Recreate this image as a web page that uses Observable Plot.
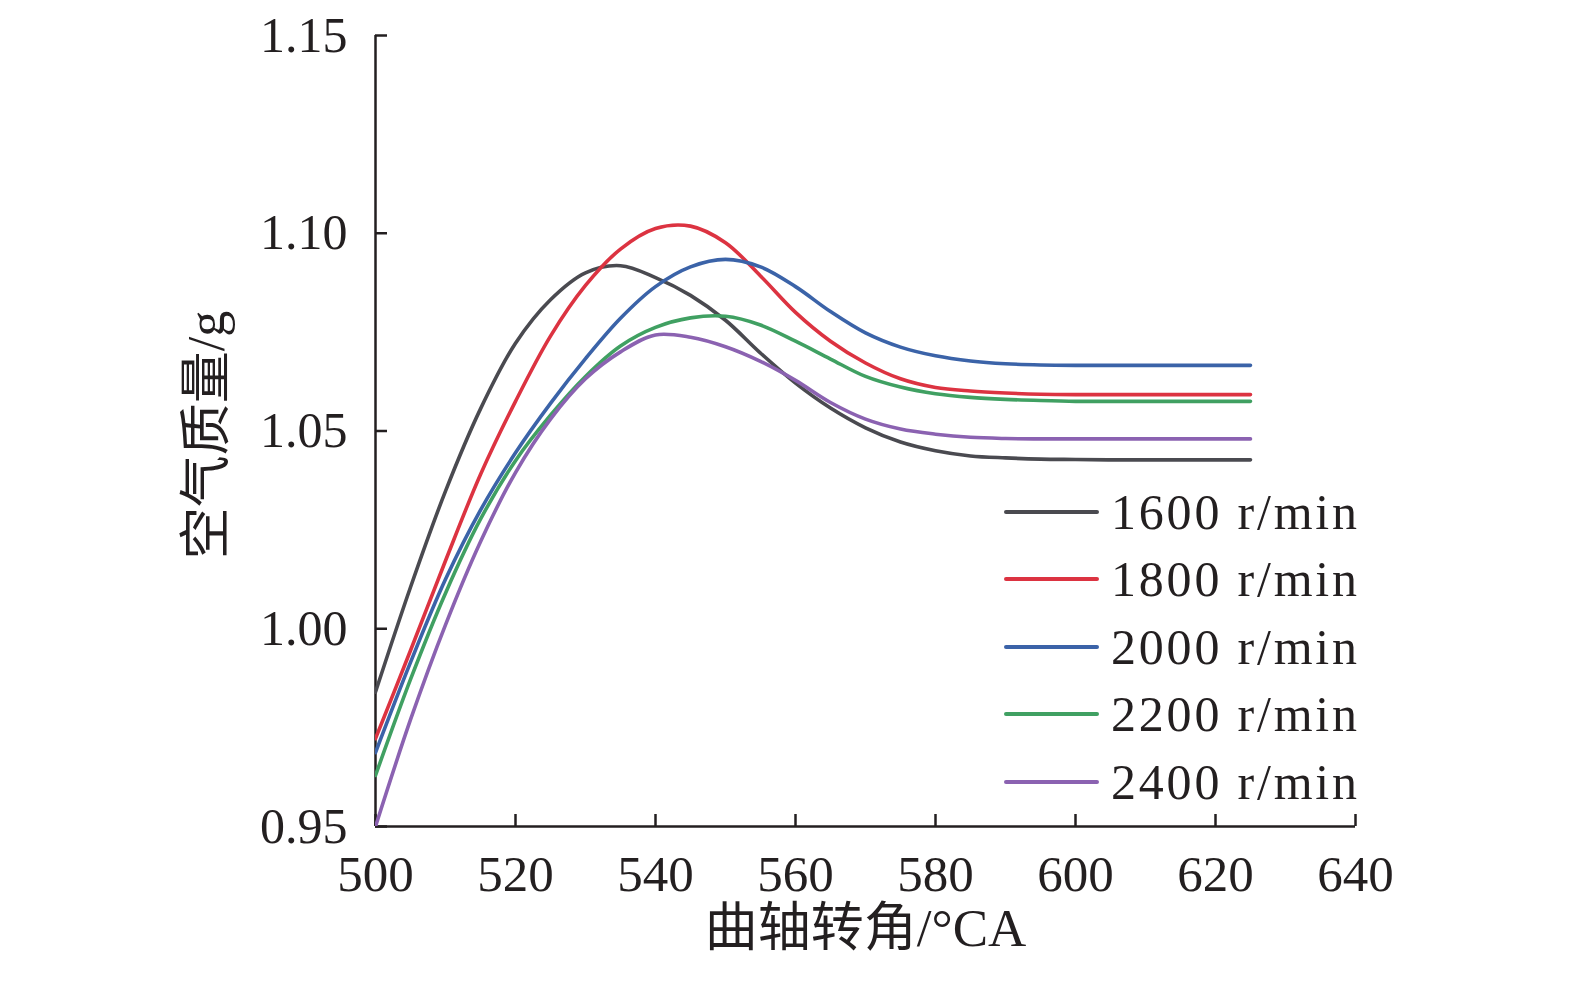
<!DOCTYPE html>
<html>
<head>
<meta charset="utf-8">
<script src="https://cdn.jsdelivr.net/npm/d3@7"></script>
<script src="https://cdn.jsdelivr.net/npm/@observablehq/plot@0.6"></script>
<style>
  html, body { margin: 0; padding: 0; background: #fff; overflow: hidden; }
  #wrap { position: relative; width: 1575px; height: 988px; overflow: hidden; }
  #wrap svg { display: block; max-width: none !important; width: 1575px; height: 988px; }
  #legend { position: absolute; left: 1004px; top: 478px; font-family: "Liberation Serif", "Noto Sans CJK SC", serif; font-size: 50px; letter-spacing: 2.8px; color: #231f20; }
  #legend .row { display: flex; align-items: center; height: 67.5px; }
  #legend .sw { width: 95px; height: 4px; border-radius: 2px; margin-right: 12px; }
</style>
</head>
<body>
<div id="wrap"><div id="legend"></div></div>
<script>
const angles = [500,505,510,515,520,525,530,535,540,545,550,555,560,565,570,575,580,585,590,595,600,605,610,615,620,625];
const seriesNames = ["1600 r/min","1800 r/min","2000 r/min","2200 r/min","2400 r/min"];
const seriesColors = ["#4a4a50","#dc3341","#3b63a8","#40a062","#8b62b1"];
const rpm1600 = [0.9840,1.0105,1.0348,1.0556,1.0722,1.0832,1.0900,1.0918,1.0888,1.0843,1.0780,1.0697,1.0621,1.0558,1.0508,1.0472,1.0450,1.0437,1.0432,1.0429,1.0428,1.0427,1.0427,1.0427,1.0427,1.0427];
const rpm1800 = [0.9722,0.9945,1.0172,1.0390,1.0575,1.0740,1.0868,1.0960,1.1012,1.1018,1.0976,1.0892,1.0800,1.0727,1.0672,1.0632,1.0610,1.0601,1.0596,1.0593,1.0592,1.0592,1.0592,1.0592,1.0592,1.0592];
const rpm2000 = [0.9687,0.9915,1.0125,1.0300,1.0445,1.0570,1.0683,1.0785,1.0865,1.0915,1.0934,1.0915,1.0865,1.0802,1.0748,1.0712,1.0690,1.0677,1.0670,1.0667,1.0666,1.0666,1.0666,1.0666,1.0666,1.0666];
const rpm2200 = [0.9629,0.9872,1.0090,1.0277,1.0425,1.0540,1.0638,1.0715,1.0762,1.0786,1.0790,1.0768,1.0727,1.0682,1.0638,1.0611,1.0594,1.0585,1.0580,1.0577,1.0575,1.0575,1.0575,1.0575,1.0575,1.0575];
const rpm2400 = [0.9500,0.9770,1.0010,1.0220,1.0395,1.0530,1.0632,1.0700,1.0743,1.0737,1.0713,1.0676,1.0628,1.0572,1.0530,1.0505,1.0492,1.0484,1.0481,1.0480,1.0480,1.0480,1.0480,1.0480,1.0480,1.0480];
const xTicks = [500,520,540,560,580,600,620,640];
const yTicks = [0.95,1.00,1.05,1.10,1.15];
const xTitle = "曲轴转角/°CA";
const yTitle = "空气质量/g";

const allSeries = [rpm1600, rpm1800, rpm2000, rpm2200, rpm2400];
const rows = [];
allSeries.forEach((vals, i) => vals.forEach((v, j) => rows.push({series: seriesNames[i], angle: angles[j], value: v})));

const ink = "#231f20";
const W = 1575, H = 988, mL = 375, mR = 220, mT = 35, mB = 162;
const frameW = W - mL - mR, frameH = H - mT - mB, tickLen = 12;
const plot = Plot.plot({
  width: W,
  height: H,
  marginLeft: mL,
  marginRight: mR,
  marginTop: mT,
  marginBottom: mB,
  style: {fontFamily: "'Liberation Serif', 'Noto Sans CJK SC', serif", fontSize: "50px", color: ink, background: "#fff"},
  x: {domain: [500, 640]},
  y: {domain: [0.95, 1.15]},
  color: {domain: seriesNames, range: seriesColors},
  marks: [
    Plot.axisX({ticks: xTicks, tickSize: 0, tickPadding: 28, label: null, fontSize: 51}),
    Plot.axisY({ticks: yTicks, tickSize: 0, tickPadding: 28, label: null, tickFormat: d3.format(".2f"), fontSize: 50}),
    Plot.ruleX(xTicks, {stroke: ink, strokeWidth: 2.5, insetTop: frameH - tickLen}),
    Plot.ruleY(yTicks, {stroke: ink, strokeWidth: 2.5, insetRight: frameW - tickLen}),
    Plot.ruleX([500], {stroke: ink, strokeWidth: 2.5}),
    Plot.ruleY([0.95], {stroke: ink, strokeWidth: 2.5}),
    Plot.line(rows, {x: "angle", y: "value", z: "series", stroke: "series", strokeWidth: 3.6, curve: "catmull-rom", clip: true}),
    Plot.text([xTitle], {frameAnchor: "bottom", dy: 119, fontSize: 53, fill: ink}),
    Plot.text([yTitle], {frameAnchor: "left", textAnchor: "middle", dx: -168, dy: 4, rotate: -90, fontSize: 52, fill: ink})
  ]
});
document.getElementById("wrap").prepend(plot);

const legend = document.getElementById("legend");
seriesNames.forEach((name, i) => {
  const row = document.createElement("div");
  row.className = "row";
  const sw = document.createElement("div");
  sw.className = "sw";
  sw.style.background = seriesColors[i];
  const t = document.createElement("span");
  t.textContent = name;
  row.appendChild(sw);
  row.appendChild(t);
  legend.appendChild(row);
});
</script>
</body>
</html>
